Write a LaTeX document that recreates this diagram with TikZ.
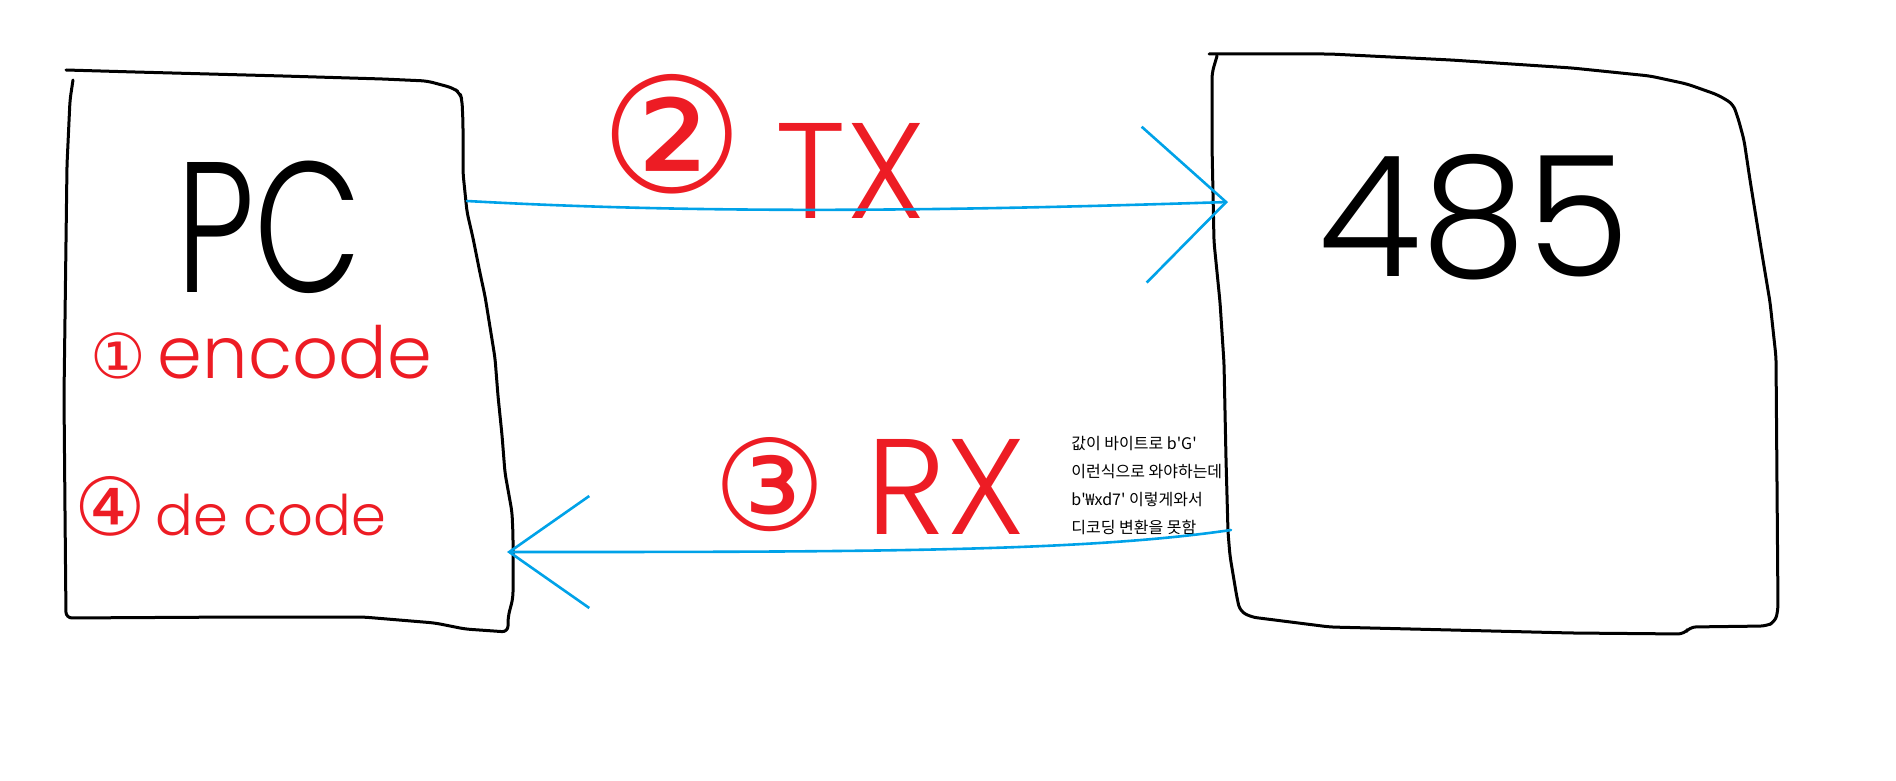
\documentclass[tikz,border=0pt]{standalone}
\usepackage{fontspec}
\usetikzlibrary{arrows.meta}
\newfontfamily\handfont{Poppins Light}
\newfontfamily\circfont{DejaVu Sans}
\newfontfamily\krfont{Noto Sans CJK KR}
\definecolor{pred}{HTML}{ED1C24}
\definecolor{pblue}{HTML}{00A2E8}

\begin{document}
\begin{tikzpicture}[x=0.5pt,y=-0.5pt,
    hand/.style={draw=black,line width=1.5pt,line join=round,line cap=round,rounded corners=3pt},
    wire/.style={draw=pblue,line width=1.3pt,line cap=round},
    txtip/.style={-{Straight Barb[length=41pt,width=78pt]}},
    rxtip/.style={-{Straight Barb[length=40pt,width=56pt]}},
    redlbl/.style={text=pred,inner sep=0pt,anchor=base west},
    blklbl/.style={text=black,inner sep=0pt,anchor=base west}]
  \useasboundingbox (0,0) rectangle (1896,781);

  % PC box
  \draw[hand] (66,70) -- (135,72) -- (283,76) -- (383,79) -- (427,81) -- (442,85) -- (453,88)
    -- (460,93) -- (462,100) -- (463,123) -- (463,173) -- (467,212) -- (473,238) -- (480,273)
    -- (485,296) -- (490,327) -- (495,358) -- (498,396) -- (502,435) -- (505,473) -- (512,512)
    -- (513,535) -- (513,598) -- (508,617) -- (508,632) -- (465,629) -- (435,623) -- (363,617)
    -- (242,617) -- (66,618) -- (65,511) -- (64,396) -- (65,319) -- (67,165) -- (70,100) -- (73,80);
  % 485 box
  \draw[hand] (1209,54) -- (1330,54) -- (1451,60) -- (1572,68) -- (1650,76) -- (1687,84)
    -- (1718,95) -- (1733,104) -- (1738,118) -- (1744,140) -- (1750,180) -- (1760,242)
    -- (1770,302) -- (1776,357) -- (1777,484) -- (1778,610) -- (1775,622) -- (1766,626)
    -- (1690,627) -- (1684,634) -- (1572,633) -- (1330,627) -- (1251,617) -- (1240,611)
    -- (1237,598) -- (1234,580) -- (1230,556) -- (1228,532) -- (1226,459) -- (1224,363)
    -- (1220,302) -- (1214,242) -- (1212,145) -- (1212,73) -- (1217,56);

  \node[blklbl,font=\handfont\fontsize{93}{93}\selectfont,xscale=0.75] (pcName) at (176,292) {PC};
  \node[blklbl,font=\handfont\fontsize{84}{84}\selectfont] (rsName) at (1318,276) {485};

  \node[redlbl,font=\handfont\fontsize{36}{36}\selectfont] (encLbl) at (90,378)
    {{\circfont\fontsize{31}{31}\selectfont ①}\,encode};
  \node[redlbl,font=\handfont\fontsize{28}{28}\selectfont] (decLbl) at (74,535)
    {{\circfont\fontsize{40}{40}\selectfont ④}\,de code};

  \node[redlbl,font=\handfont\fontsize{68}{68}\selectfont] (txLbl) at (600,218)
    {\raisebox{13pt}{\circfont\fontsize{80}{80}\selectfont ②}\hspace{16pt}TX};
  \node[redlbl,font=\handfont\fontsize{68}{68}\selectfont] (rxLbl) at (713,534)
    {\raisebox{2pt}{\circfont\fontsize{63}{63}\selectfont ③}\hspace{20pt}RX};

  \node[inner sep=0pt,anchor=north west,align=left,font=\krfont\fontsize{8}{14}\selectfont] (note) at (1071,436)
    {값이 바이트로 b\textquotesingle G\textquotesingle\\
     이런식으로 와야하는데\\
     b\textquotesingle ₩xd7\textquotesingle{} 이렇게와서\\
     디코딩 변환을 못함};

  % ports
  \coordinate (pcTx) at (467,201);
  \coordinate (rsTx) at (1228,202);
  \coordinate (rsRx) at (1231,530);
  \coordinate (pcRx) at (507,552);

  \draw[wire,txtip] (pcTx) .. controls +(250,14) and +(-250,8) .. (rsTx);
  \draw[wire,rxtip] (rsRx) .. controls +(-150,22) and +(350,0) .. (pcRx);
\end{tikzpicture}
\end{document}
